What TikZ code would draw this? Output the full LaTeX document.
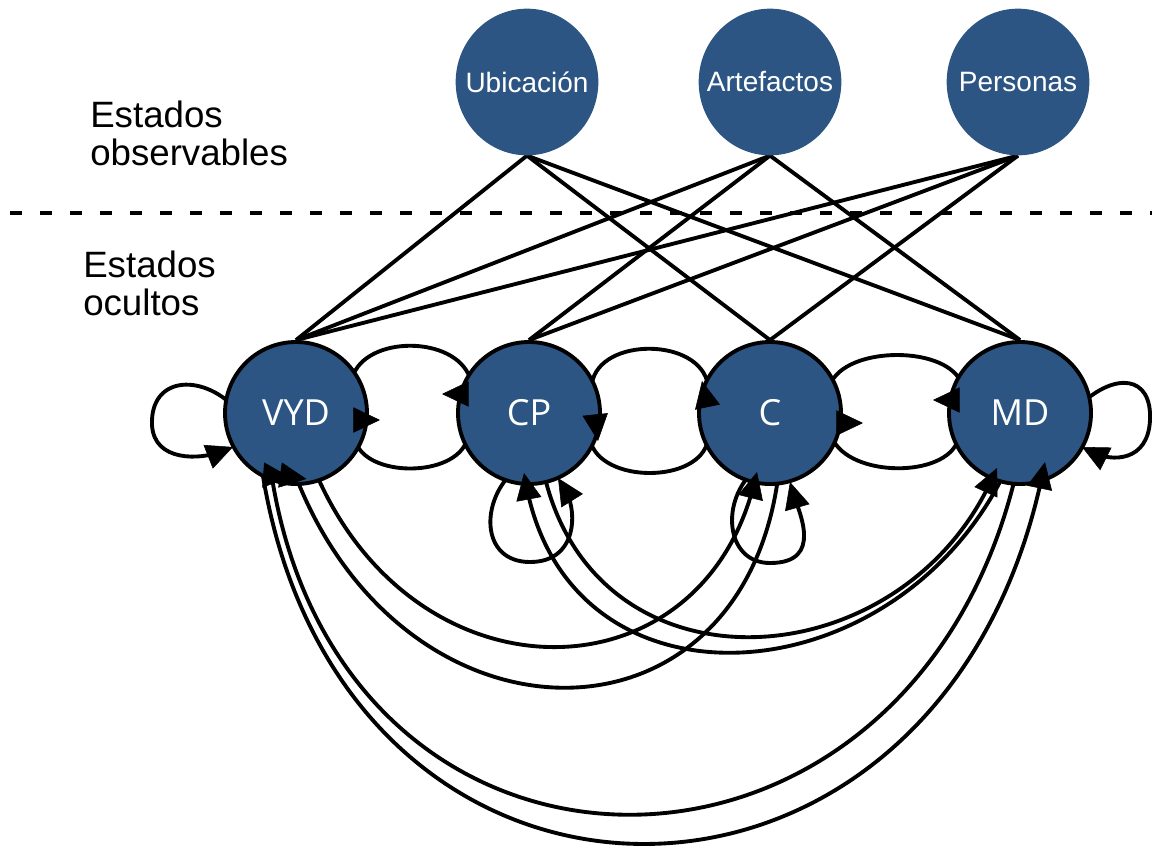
\documentclass[tikz,border=0pt]{standalone}
\usepackage{fontspec}
\setmainfont{Liberation Sans}
\newfontfamily\hiddenfont{Open Sans}
\usetikzlibrary{arrows.meta,decorations.markings,shapes.geometric}
\pgfdeclarelayer{behind}
\pgfsetlayers{behind,main}
\definecolor{stateblue}{RGB}{44,85,131}

% a transition: its line runs under the states, its arrow head lies on top
\newcommand\statearc[1]{%
  \begin{pgfonlayer}{behind}\draw[trans] #1;\end{pgfonlayer}%
  \path[transtip] #1;}

\begin{document}
\begin{tikzpicture}[x=0.75pt, y=-0.75pt,
  hidden/.style={circle, fill=stateblue, draw=black, line width=2.9pt,
    minimum size=106.5pt, inner sep=0pt, text=white,
    font=\hiddenfont\fontsize{27}{30}\selectfont},
  observed/.style={ellipse, fill=stateblue, minimum width=107pt,
    minimum height=110pt, inner sep=0pt, text=white,
    font=\fontsize{21}{24}\selectfont},
  caption/.style={anchor=north west, align=left, inner sep=0pt,
    font=\fontsize{27.5}{28.5}\selectfont},
  emission/.style={line width=2.9pt},
  trans/.style={line width=2.9pt, shorten >=9pt},
  transtip/.style={decorate, decoration={markings,
    mark=at position 0.9999 with {\arrow{Triangle[length=20pt,width=19pt]}}}},
  separator/.style={line width=3.4pt, dash pattern=on 9pt off 13.5pt}]

\useasboundingbox (0,0) rectangle (1152,846);

% observable states
\node[observed] (U) at (527,82) {\makebox[0pt]{Ubicación}};
\node[observed] (A) at (770,82) {\makebox[0pt]{Artefactos}};
\node[observed] (P) at (1018,82) {\makebox[0pt]{Personas}};

% hidden states
\node[hidden] (VYD) at (296,413) {VYD};
\node[hidden] (CP)  at (529,413) {CP};
\node[hidden] (C)   at (770,413) {C};
\node[hidden] (MD)  at (1020,413) {MD};

% captions and separator
\node[caption] (obs) at (90,101) {Estados\\observables};
\node[caption] (hid) at (83,251) {Estados\\ocultos};
\draw[separator] (10,213) -- (1152,213);

% emissions
\begin{pgfonlayer}{behind}
\draw[emission] (U.south) -- (VYD.north);
\draw[emission] (U.south) -- (C.north);
\draw[emission] (U.south) -- (MD.north);
\draw[emission] (A.south) -- (VYD.north);
\draw[emission] (A.south) -- (CP.north);
\draw[emission] (A.south) -- (MD.north);
\draw[emission] (P.south) -- (VYD.north);
\draw[emission] (P.south) -- (CP.north);
\draw[emission] (P.south) -- (C.north);
\end{pgfonlayer}

% arrow-head points
\coordinate (t1) at (442,394);
\coordinate (t2) at (380,420);
\coordinate (t3) at (598,441);
\coordinate (t4) at (702,381);
\coordinate (t5) at (933,400);
\coordinate (t6) at (863,423);
\coordinate (t7) at (233,447);
\coordinate (t8) at (1082,447);
\coordinate (t9) at (558,478);
\coordinate (t10) at (790,482);
\coordinate (t11) at (1045,462);
\coordinate (t12) at (290,477);
\coordinate (t13) at (757,472);
\coordinate (t14) at (307,479);
\coordinate (t15) at (997,468);
\coordinate (t16) at (524,473);

% transitions between neighbours
\statearc{(VYD.center) -- (352,378) .. controls (365,335) and (455,335) .. (470,378) .. controls (471,392) and (460,394) .. (t1)}
\statearc{(CP.center) -- (467,440) .. controls (455,478) and (365,478) .. (355,440) .. controls (352,424) and (362,420) .. (t2)}
\statearc{(C.center) -- (708,385) .. controls (700,337) and (600,337) .. (592,383) .. controls (590,400) and (596,422) .. (t3)}
\statearc{(CP.center) -- (590,440) .. controls (600,484) and (700,484) .. (708,440) .. controls (711,420) and (706,400) .. (t4)}
\statearc{(C.center) -- (830,385) .. controls (845,345) and (950,345) .. (962,385) .. controls (963,398) and (952,400) .. (t5)}
\statearc{(MD.center) -- (958,440) .. controls (946,478) and (850,478) .. (832,438) .. controls (830,427) and (845,423) .. (t6)}

% self transitions
\statearc{(VYD.center) -- (240,413) .. controls (205,372) and (150,375) .. (152,425) .. controls (154,462) and (200,460) .. (t7)}
\statearc{(MD.center) -- (1080,405) .. controls (1115,372) and (1152,375) .. (1150,420) .. controls (1148,462) and (1112,462) .. (t8)}
\statearc{(CP.center) -- (515,470) .. controls (480,500) and (480,562) .. (530,562) .. controls (578,562) and (578,510) .. (t9)}
\statearc{(C.center) -- (755,470) .. controls (720,500) and (725,563) .. (770,563) .. controls (825,563) and (798,510) .. (t10)}

% long transitions
\statearc{(VYD.center) -- (262,470) .. controls (340,968) and (940,968) .. (t11)}
\statearc{(MD.center) -- (1015,478) .. controls (905,927) and (345,927) .. (272,478) .. controls (268,468) and (275,476) .. (t12)}
\statearc{(VYD.center) -- (318,478) .. controls (420,705) and (700,700) .. (t13)}
\statearc{(C.center) -- (778,478) .. controls (740,757) and (410,757) .. (298,482) .. controls (294,470) and (298,478) .. (t14)}
\statearc{(CP.center) -- (545,478) .. controls (600,700) and (900,680) .. (t15)}
\statearc{(MD.center) -- (1003,476) .. controls (890,700) and (570,720) .. (t16)}

\end{tikzpicture}
\end{document}
